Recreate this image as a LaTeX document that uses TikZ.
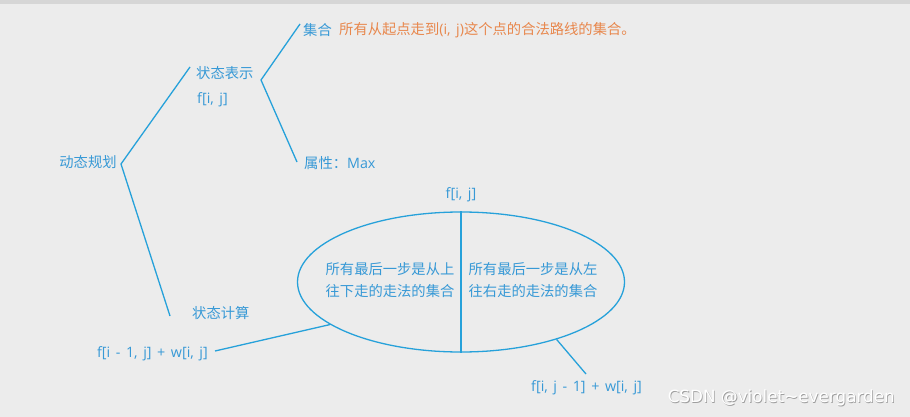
\documentclass[tikz,border=0pt]{standalone}
\usepackage{fontspec}
\setmainfont{Open Sans}[WordSpace=1.5]
\newfontfamily\cjk{Noto Sans CJK SC}
\newfontfamily\wmfont{DejaVu Sans}
\usetikzlibrary{shapes.geometric}
\definecolor{bg}{HTML}{ECECEC}
\definecolor{topbar}{HTML}{D6D6D6}
\definecolor{txtblue}{HTML}{3799D6}
\definecolor{lineblue}{HTML}{26A1DA}
\definecolor{orangetxt}{HTML}{E8874C}
\tikzset{
  lbl/.style={font=\fontsize{14.3}{16}\selectfont, text=txtblue, inner sep=0pt},
  olbl/.style={font=\fontsize{14.3}{16}\selectfont, text=orangetxt, inner sep=0pt},
  conn/.style={draw=lineblue, line width=1.3pt},
}
\begin{document}
\begin{tikzpicture}[x=1pt,y=-1pt]
\fill[bg] (0,0) rectangle (910,417);
\useasboundingbox (0,0) rectangle (910,417);
\fill[topbar] (0,0) rectangle (910,4);

% texts
\node[lbl] (dp) at (88,162) {\cjk 动态规划};
\node[lbl, anchor=west] (zt) at (196,73) {\cjk 状态表示};
\node[lbl, anchor=west] (fij) at (197,100) {f[i, j]};
\node[lbl, anchor=west] (jh) at (303,30) {\cjk 集合};
\node[olbl, anchor=west] (jhd) at (339,30) {{\cjk 所有从起点走到}(i, j){\cjk 这个点的合法路线的集合。}};
\node[lbl, anchor=west] (sx) at (304,163) {{\cjk 属性：}Max};
\node[lbl, anchor=west] (js) at (192,313) {\cjk 状态计算};

% bracket 1
\coordinate (v1) at (121,164);
\coordinate (e1a) at (190,67);
\coordinate (e1b) at (170,316);
\draw[conn] (e1a) -- (v1) -- (e1b);
% bracket 2
\coordinate (v2) at (261,80);
\coordinate (e2a) at (300,24);
\coordinate (e2b) at (297,162);
\draw[conn] (e2a) -- (v2) -- (e2b);

% ellipse
\node[ellipse, draw=lineblue, line width=1.3pt, minimum width=327pt, minimum height=140pt, inner sep=0pt] (ell) at (461,282) {};
\draw[lineblue, line width=1.4pt] (ell.north) -- (ell.south);
\node[lbl] (ftop) at (461,195) {f[i, j]};
\node[lbl, align=center, font=\cjk\fontsize{14.3}{16}\selectfont] (lt) at (390,280) {所有最后一步是从上\\[6pt]往下走的走法的集合};
\node[lbl, align=center, font=\cjk\fontsize{14.3}{16}\selectfont] (rt) at (533,280) {所有最后一步是从左\\[6pt]往右走的走法的集合};

% outputs
\node[lbl, anchor=east] (fl) at (208,354) {f[i - 1, j] + w[i, j]};
\node[lbl, anchor=west] (fr) at (531,388) {f[i, j - 1] + w[i, j]};
\coordinate (cl) at (215,351);
\coordinate (cr) at (586,374);
\draw[conn] (ell.198.5) -- (cl);
\draw[conn] (ell.-31.3) -- (cr);

% watermark
\node[font=\wmfont\fontsize{16.8}{18}\selectfont, text=gray!75, inner sep=0pt, anchor=east] at (895.8,398.8) {CSDN @violet\textasciitilde evergarden};
\node[font=\wmfont\fontsize{16.8}{18}\selectfont, text=white, inner sep=0pt, anchor=east] (wm) at (895,398) {CSDN @violet\textasciitilde evergarden};
\end{tikzpicture}
\end{document}
